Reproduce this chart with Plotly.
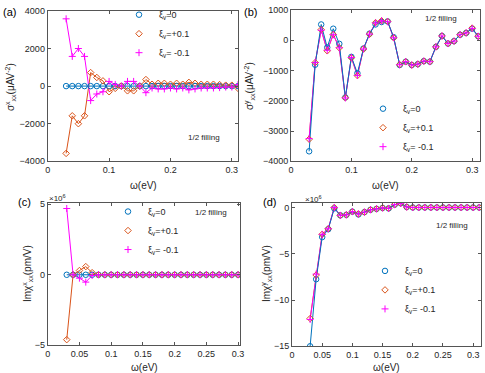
import plotly.graph_objects as go

# photon energy (eV)
omega = [0.03, 0.04, 0.05, 0.06, 0.07, 0.08, 0.09, 0.10, 0.11, 0.12,
         0.13, 0.14, 0.15, 0.16, 0.17, 0.18, 0.19, 0.20, 0.21, 0.22,
         0.23, 0.24, 0.25, 0.26, 0.27, 0.28, 0.29, 0.30, 0.31]

# (a) sigma^x_xx (uA V^-2)
a_zero = [0, 0, 0, 0, 0, 0, 0, 0, 0, 0, 0, 0, 0, 0, 0, 0, 0, 0, 0, 0,
          0, 0, 0, 0, 0, 0, 0, 0, 0]
a_plus = [-3580, -1580, -2000, -1580, 720, 460, 280, -300, -120, 0,
          -250, -250, 0, 350, 100, 150, 150, 100, 150, 100,
          200, 150, 100, 100, 100, 80, 50, 50, -120]
a_minus = [3580, 1580, 2000, 1580, -770, -420, -300, 250, 90, 0,
           250, 250, 0, -350, -100, -150, -150, -100, -150, -100,
           -200, -150, -100, -100, -100, -80, -50, -50, 80]

# (b) sigma^y_xx (uA V^-2)
b_zero = [-3670, -810, 520, -240, 380, -120, -1890, -550, -1090, -275,
          215, 520, 600, 620, 100, -820, -710, -820, -790, -690,
          -710, -220, 140, -110, -30, 180, 240, 380, 130]
b_plus = [-3270, -740, 350, -350, 190, -250, -1900, -580, -1170, -290,
          200, 580, 640, 620, 80, -810, -710, -820, -790, -690,
          -710, -220, 140, -110, -30, 180, 240, 400, 130]
b_minus = [-3250, -740, 330, -330, 180, -250, -1910, -570, -1160, -290,
           200, 570, 640, 610, 80, -810, -710, -820, -790, -690,
           -710, -220, 140, -110, -30, 180, 240, 390, 130]

# (c) Im chi^x_xx (x10^6 pm/V)
c_zero = [0, 0, 0, 0, 0, 0, 0, 0, 0, 0, 0, 0, 0, 0, 0, 0, 0, 0, 0, 0,
          0, 0, 0, 0, 0, 0, 0, 0, 0]
c_plus = [-4.6, 0.0, 0.3, 0.58, 0.15, 0, 0, 0, 0, 0, 0, 0, 0, 0, 0, 0,
          0, 0, 0, 0, 0, 0, 0, 0, 0, 0, 0, 0, 0]
c_minus = [4.7, 0.0, -0.24, -0.52, -0.05, 0, 0, 0, 0, 0, 0, 0, 0, 0, 0, 0,
           0, 0, 0, 0, 0, 0, 0, 0, 0, 0, 0, 0, 0]

# (d) Im chi^y_xx (x10^6 pm/V)
d_zero = [-15.0, -7.75, -3.2, -2.35, -0.1, -0.85, -0.8, -0.45, -0.75, -0.5,
          -0.25, -0.15, -0.05, -0.1, 0.3, 0.45, 0.05, 0, 0, 0,
          0, 0, 0, 0, 0, 0, 0, 0, 0]
d_plus = [-12.0, -7.3, -2.9, -2.3, 0.0, -0.85, -0.8, -0.45, -0.7, -0.5,
          -0.25, -0.15, -0.05, -0.1, 0.3, 0.45, 0.05, 0, 0, 0,
          0, 0, 0, 0, 0, 0, 0, 0, 0]
d_minus = [-12.1, -7.2, -2.9, -2.3, 0.0, -0.85, -0.8, -0.45, -0.7, -0.5,
           -0.25, -0.15, -0.05, -0.1, 0.3, 0.45, 0.05, 0, 0, 0,
           0, 0, 0, 0, 0, 0, 0, 0, 0]

labels = ['ξ<sub>v</sub>=0', 'ξ<sub>v</sub>=+0.1', 'ξ<sub>v</sub>= -0.1']
BLUE = '#0072BD'
ORANGE = '#D95319'
MAGENTA = '#FF00FF'
FONT = 'Liberation Sans, Arial, sans-serif'

W, H = 485, 373

fig = go.Figure()

panels = [
    ('x', 'y', 'legend', [a_zero, a_plus, a_minus]),
    ('x2', 'y2', 'legend2', [b_zero, b_plus, b_minus]),
    ('x3', 'y3', 'legend3', [c_zero, c_plus, c_minus]),
    ('x4', 'y4', 'legend4', [d_zero, d_plus, d_minus]),
]
styles = [
    (BLUE, 'circle-open', 5.5),
    (ORANGE, 'diamond-open', 5),
    (MAGENTA, 'cross-thin', 5),
]

for xa, ya, leg, series in panels:
    # connecting lines first (blue on top), then the markers
    for i in [1, 2, 0]:
        col = styles[i][0]
        fig.add_trace(go.Scatter(x=omega, y=series[i], mode='lines', xaxis=xa, yaxis=ya,
                                 line=dict(color=col, width=1), showlegend=False,
                                 hoverinfo='skip'))
    for (col, sym, sz), vals, lab in zip(styles, series, labels):
        fig.add_trace(go.Scatter(x=omega, y=vals, mode='markers', xaxis=xa, yaxis=ya,
                                 name=lab, legend=leg,
                                 marker=dict(symbol=sym, size=sz, color=col,
                                             line=dict(color=col, width=1))))


def px_x(p):
    return p / W


def px_y(p):
    return 1 - p / H


axis_common = dict(showline=True, linecolor='#555555', linewidth=1, mirror='ticks',
                   ticks='inside', ticklen=3, tickcolor='#555555', showgrid=False,
                   zeroline=False, automargin=False,
                   tickfont=dict(size=9, color='#262626', family=FONT))

fig.update_layout(
    width=W, height=H,
    margin=dict(l=0, r=0, t=0, b=0),
    paper_bgcolor='white', plot_bgcolor='white',
    font=dict(family=FONT, size=9, color='#262626'),
    xaxis=dict(axis_common, domain=[px_x(47.7), px_x(238)], range=[0, 0.31], dtick=0.1,
               anchor='y'),
    yaxis=dict(axis_common, domain=[px_y(159), px_y(7)], range=[-4000, 4000], dtick=2000,
               anchor='x'),
    xaxis2=dict(axis_common, domain=[px_x(291), px_x(480)], range=[0, 0.313], dtick=0.1,
                anchor='y2'),
    yaxis2=dict(axis_common, domain=[px_y(159), px_y(6)], range=[-4000, 1000], dtick=1000,
                anchor='x2'),
    xaxis3=dict(axis_common, domain=[px_x(47.7), px_x(240)], range=[0, 0.303], dtick=0.05,
                anchor='y3'),
    yaxis3=dict(axis_common, domain=[px_y(345), px_y(201)], range=[-5, 5.1], dtick=5,
                anchor='x3'),
    xaxis4=dict(axis_common, domain=[px_x(292), px_x(481)], range=[0, 0.313], dtick=0.05,
                anchor='y4'),
    yaxis4=dict(axis_common, domain=[px_y(346), px_y(201)], range=[-15, 0.5], dtick=5,
                anchor='x4'),
)

leg_common = dict(bgcolor='rgba(0,0,0,0)', borderwidth=0, font=dict(size=9, family=FONT),
                  itemwidth=30, tracegroupgap=0, xanchor='left', yanchor='middle')
fig.update_layout(
    legend=dict(leg_common, x=px_x(119), y=px_y(30)),
    legend2=dict(leg_common, x=px_x(363), y=px_y(125)),
    legend3=dict(leg_common, x=px_x(108), y=px_y(229)),
    legend4=dict(leg_common, x=px_x(365), y=px_y(289)),
)

ann = []
# panel letters
for txt, x, y in [('(a)', 1, 8), ('(b)', 242, 8), ('(c)', 16, 200), ('(d)', 261, 200)]:
    ann.append(dict(text=txt, x=px_x(x), y=px_y(y), xref='paper', yref='paper',
                    xanchor='left', yanchor='middle', showarrow=False,
                    font=dict(size=11, color='black')))
# axis titles
for x, y in [(143, 183), (385, 183), (144, 367), (386, 367)]:
    ann.append(dict(text='ω(eV)', x=px_x(x), y=px_y(y), xref='paper', yref='paper',
                    xanchor='center', yanchor='middle', showarrow=False,
                    font=dict(size=10, color='#262626')))
ytitles = [('σ<sup>x</sup><sub>xx</sub>(μAV<sup>-2</sup>)', 10, 84),
           ('σ<sup>y</sup><sub>xx</sub>(μAV<sup>-2</sup>)', 249, 83),
           ('Imχ<sup>x</sup><sub>xx</sub>(pm/V)', 27, 273),
           ('Imχ<sup>y</sup><sub>xx</sub>(pm/V)', 266, 273)]
for txt, x, y in ytitles:
    ann.append(dict(text=txt, x=px_x(x), y=px_y(y), xref='paper', yref='paper',
                    xanchor='center', yanchor='middle', showarrow=False, textangle=-90,
                    font=dict(size=10, color='#262626')))
# filling notes
for x, y in [(204, 135), (441, 15), (211, 211), (452, 224)]:
    ann.append(dict(text='1/2 filling', x=px_x(x), y=px_y(y), xref='paper', yref='paper',
                    xanchor='center', yanchor='middle', showarrow=False,
                    font=dict(size=8, color='#262626')))
# exponent labels
for x, y in [(47, 196), (303, 197)]:
    ann.append(dict(text='×10<sup>6</sup>', x=px_x(x), y=px_y(y), xref='paper', yref='paper',
                    xanchor='left', yanchor='middle', showarrow=False,
                    font=dict(size=8, color='#262626')))
fig.update_layout(annotations=ann)

# drop the default page margin so the figure sits at the window corner
fig.write_html("out.html", config={'displayModeBar': False},
               post_script="document.body.style.margin = '0';")
